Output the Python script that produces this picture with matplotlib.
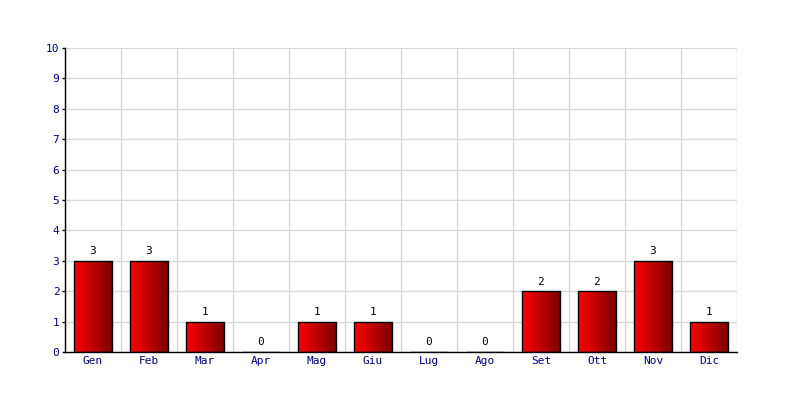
import matplotlib
matplotlib.use("Agg")
import matplotlib.pyplot as plt
import numpy as np
from matplotlib.colors import LinearSegmentedColormap

months = ["Gen", "Feb", "Mar", "Apr", "Mag", "Giu", "Lug", "Ago", "Set", "Ott", "Nov", "Dic"]
values = [3, 3, 1, 0, 1, 1, 0, 0, 2, 2, 3, 1]
yticks = list(range(0, 11))

plt.rcParams['font.family'] = ['DejaVu Sans Mono']

fig = plt.figure(figsize=(8, 4), dpi=100)
ax = fig.add_axes([0.08125, 0.12, 0.84, 0.76])

x = np.arange(len(months))
cmap = LinearSegmentedColormap.from_list("redgrad", ["#ff0000", "#7a0000"])
grad = np.linspace(0, 1, 256).reshape(1, -1)
bars = ax.bar(x, values, width=0.68, facecolor="none", edgecolor="black", linewidth=1.0, zorder=3)
for b, v in zip(bars, values):
    if v <= 0:
        continue
    x0, y0 = b.get_x(), b.get_y()
    w, h = b.get_width(), b.get_height()
    im = ax.imshow(grad, cmap=cmap, aspect="auto", extent=[x0, x0 + w, y0, y0 + h],
                   zorder=2, interpolation="bilinear")
    im.set_clip_path(b)

for xi, v in zip(x, values):
    ax.text(xi, v + 0.15, str(v), ha="center", va="bottom", fontsize=8, color="black")

ax.set_xlim(-0.5, len(months) - 0.5)
ax.set_ylim(0, 10)
ax.set_yticks(yticks)
ax.set_xticks(x)
ax.set_xticklabels(months)
ax.set_xticks(np.arange(-0.5, len(months), 1), minor=True)
ax.tick_params(axis="y", labelsize=8, labelcolor="#000080", length=2, width=1, pad=2)
ax.tick_params(axis="x", which="major", labelsize=8, labelcolor="#000080", length=0, pad=3)
ax.tick_params(axis="x", which="minor", length=0)
ax.grid(True, axis="y", color="#d9d9d9", linewidth=1, zorder=0)
ax.grid(True, axis="x", which="minor", color="#d9d9d9", linewidth=1, zorder=0)
ax.set_axisbelow(True)
for s in ["top", "right"]:
    ax.spines[s].set_visible(False)
ax.spines["left"].set_linewidth(1)
ax.spines["bottom"].set_linewidth(1)

fig.savefig("out.png", dpi=100)
